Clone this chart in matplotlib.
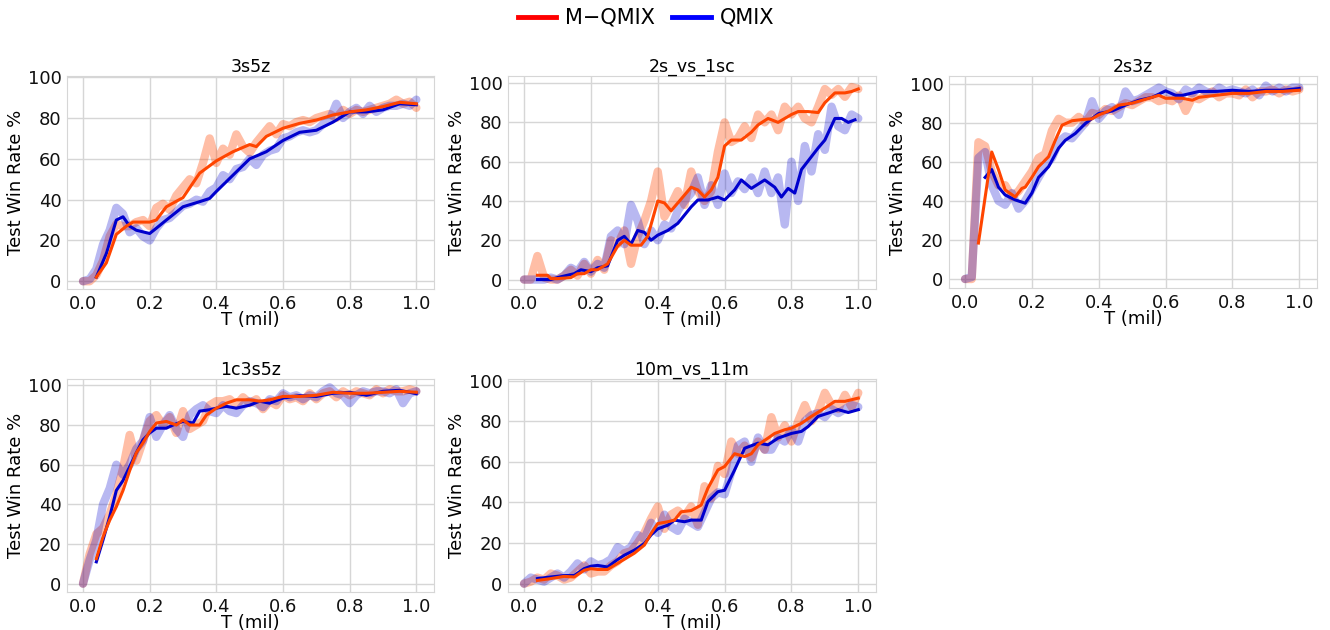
import matplotlib
matplotlib.use('Agg')
import matplotlib.pyplot as plt
import numpy as np

# ---- data (x in millions of steps, y = test win rate %) ----
raw_x = np.linspace(0.0, 1.0, 51)

maps = ['3s5z', '2s_vs_1sc', '2s3z', '1c3s5z', '10m_vs_11m']

# raw (unsmoothed) curves, one value every 0.02
raw_mqmix = {
    '3s5z': [0, 0, 3, 10, 22, 28, 27, 27, 29, 30, 27, 36, 38, 35, 42, 46, 50, 48, 58, 70,
             58, 65, 62, 72, 66, 63, 68, 72, 76, 72, 77, 76, 78, 79, 78, 80, 81, 82, 80, 84,
             82, 84, 83, 84, 85, 86, 87, 89, 87, 88, 85],
    '2s_vs_1sc': [0, 0, 12, 1, 0, 0, 2, 5, 2, 8, 3, 10, 5, 20, 18, 25, 8, 22, 30, 40,
                  55, 32, 38, 45, 38, 55, 45, 40, 45, 65, 80, 70, 72, 78, 72, 84, 80, 84, 76, 88,
                  84, 88, 82, 80, 88, 97, 94, 97, 93, 98, 97],
    '2s3z': [0, 0, 70, 68, 55, 48, 48, 42, 45, 50, 55, 62, 64, 76, 82, 80, 80, 83, 80, 85,
             84, 87, 86, 88, 90, 89, 91, 93, 93, 91, 92, 91, 94, 86, 93, 92, 94, 96, 93, 95,
             95, 94, 97, 93, 96, 96, 97, 95, 97, 96, 97],
    '1c3s5z': [0, 15, 25, 28, 35, 45, 58, 75, 62, 72, 82, 85, 80, 84, 76, 87, 78, 80, 82, 90,
               92, 92, 93, 90, 94, 91, 93, 88, 92, 90, 95, 93, 94, 92, 96, 93, 96, 97, 94, 97,
               95, 97, 96, 95, 98, 96, 98, 97, 97, 98, 97],
    '10m_vs_11m': [0, 1, 3, 2, 5, 4, 2, 3, 6, 9, 5, 6, 6, 9, 11, 15, 16, 20, 25, 32,
                   38, 27, 34, 36, 33, 38, 29, 48, 42, 58, 54, 70, 64, 68, 62, 70, 66, 82, 72, 78,
                   70, 80, 88, 80, 85, 94, 88, 86, 93, 87, 94],
}
raw_qmix = {
    '3s5z': [0, 1, 6, 18, 25, 36, 33, 24, 26, 22, 20, 26, 30, 31, 34, 37, 38, 40, 39, 44,
             46, 52, 50, 55, 56, 60, 57, 62, 64, 65, 70, 71, 73, 74, 73, 74, 77, 79, 87, 80,
             83, 85, 82, 86, 83, 85, 86, 86, 87, 86, 89],
    '2s_vs_1sc': [0, 0, 0, 0, 1, 0, 2, 6, 4, 9, 4, 8, 6, 22, 25, 18, 38, 30, 18, 25,
                  20, 28, 26, 35, 40, 44, 52, 38, 48, 38, 54, 44, 50, 46, 52, 44, 55, 44, 52, 28,
                  60, 40, 68, 55, 74, 66, 88, 78, 76, 84, 82],
    '2s3z': [0, 1, 62, 65, 48, 40, 38, 44, 36, 40, 46, 52, 58, 62, 70, 73, 72, 76, 80, 91,
             82, 86, 88, 84, 96, 91, 92, 94, 96, 98, 96, 95, 92, 97, 95, 98, 96, 95, 98, 96,
             97, 96, 95, 97, 94, 99, 96, 98, 96, 98, 98],
    '1c3s5z': [0, 12, 22, 40, 48, 60, 55, 60, 68, 72, 84, 74, 80, 85, 78, 74, 85, 88, 90, 87,
               86, 90, 87, 86, 90, 92, 91, 89, 93, 92, 96, 94, 95, 93, 95, 94, 97, 99, 96, 95,
               91, 95, 97, 96, 97, 97, 96, 98, 91, 96, 97],
    '10m_vs_11m': [0, 3, 2, 1, 3, 5, 3, 6, 10, 7, 11, 9, 10, 12, 18, 16, 18, 24, 22, 30,
                   25, 34, 28, 26, 32, 30, 28, 35, 42, 45, 44, 55, 68, 70, 60, 72, 66, 66, 72, 70,
                   76, 70, 80, 83, 84, 82, 86, 84, 86, 88, 87],
}

# smoothed curves (x, y pairs)
smooth_mqmix_x = {
    '3s5z': [0.04, 0.07, 0.10, 0.13, 0.15, 0.20, 0.22, 0.25, 0.30, 0.35, 0.40, 0.45, 0.50, 0.52,
             0.55, 0.60, 0.65, 0.70, 0.75, 0.80, 0.85, 0.90, 0.95, 1.00],
    '2s_vs_1sc': [0.04, 0.07, 0.08, 0.10, 0.14, 0.16, 0.18, 0.20, 0.22, 0.25, 0.28, 0.30, 0.32,
                  0.35, 0.37, 0.40, 0.42, 0.44, 0.46, 0.50, 0.52, 0.54, 0.56, 0.58, 0.60, 0.62,
                  0.65, 0.68, 0.70, 0.73, 0.76, 0.80, 0.82, 0.85, 0.88, 0.90, 0.93, 0.96, 0.98, 1.00],
    '2s3z': [0.04, 0.08, 0.10, 0.12, 0.15, 0.17, 0.18, 0.20, 0.22, 0.25, 0.27, 0.29, 0.32, 0.35,
             0.38, 0.40, 0.43, 0.46, 0.50, 0.55, 0.58, 0.60, 0.65, 0.68, 0.70, 0.75, 0.80, 0.85,
             0.90, 0.95, 1.00],
    '1c3s5z': [0.04, 0.06, 0.08, 0.10, 0.12, 0.14, 0.16, 0.18, 0.20, 0.22, 0.25, 0.28, 0.30, 0.32,
               0.35, 0.37, 0.40, 0.43, 0.46, 0.50, 0.53, 0.56, 0.60, 0.65, 0.70, 0.75, 0.80, 0.85,
               0.90, 0.95, 1.00],
    '10m_vs_11m': [0.04, 0.08, 0.12, 0.15, 0.18, 0.20, 0.22, 0.25, 0.28, 0.30, 0.33, 0.36, 0.38,
                   0.40, 0.43, 0.45, 0.47, 0.50, 0.53, 0.55, 0.58, 0.60, 0.63, 0.66, 0.68, 0.70,
                   0.73, 0.75, 0.78, 0.80, 0.83, 0.86, 0.90, 0.93, 0.96, 0.98, 1.00],
}
smooth_mqmix_y = {
    '3s5z': [2, 9, 23, 27, 29, 29, 30, 36.5, 41, 53, 59, 63.5, 67, 66, 71, 75, 77.4, 79, 81.5,
             83, 84, 85.6, 87.7, 87],
    '2s_vs_1sc': [2.2, 2.2, 0.5, 0.5, 1, 3, 3, 5, 5, 8, 17, 20, 17.5, 17.5, 22, 40, 39, 35, 39,
                  47, 45.6, 42, 45.6, 52, 68, 71, 71, 75, 78.7, 82, 80, 84, 85.5, 85.5, 85, 90,
                  95, 95, 95.7, 97],
    '2s3z': [18.4, 65, 56, 45.6, 42, 46.4, 47, 52, 57.5, 62.6, 71, 78.7, 81, 81.6, 82, 84, 86,
             89, 90, 92.5, 94, 92.5, 92.5, 91.5, 93, 94, 95, 95, 96, 96, 96.6],
    '1c3s5z': [12.6, 23.6, 32, 38.8, 47, 57, 66, 71, 76.7, 81, 81.8, 80, 82.6, 80, 80, 85, 88.5,
               91, 92.7, 92.7, 92, 92.7, 94.4, 94.4, 95, 96.5, 96, 96, 96.5, 97, 96.5],
    '10m_vs_11m': [1.6, 2.5, 3.6, 3.3, 6.6, 7.4, 7, 7, 10, 12, 15, 19, 24.7, 29.6, 30.5, 31.3,
                   35.4, 36, 38.7, 47, 56, 57.7, 64, 62.6, 64, 68.4, 71.7, 74, 75.8, 76.6, 79,
                   82.4, 86.5, 89.8, 89.8, 90.6, 91.4],
}
smooth_qmix_x = {
    '3s5z': [0.04, 0.07, 0.10, 0.12, 0.14, 0.16, 0.20, 0.22, 0.25, 0.30, 0.35, 0.38, 0.40, 0.45,
             0.50, 0.55, 0.60, 0.65, 0.70, 0.75, 0.80, 0.85, 0.90, 0.95, 1.00],
    '2s_vs_1sc': [0.04, 0.08, 0.10, 0.15, 0.17, 0.20, 0.22, 0.25, 0.28, 0.30, 0.32, 0.34, 0.36,
                  0.38, 0.40, 0.43, 0.46, 0.50, 0.52, 0.55, 0.58, 0.60, 0.63, 0.65, 0.68, 0.72,
                  0.75, 0.77, 0.79, 0.81, 0.83, 0.86, 0.88, 0.90, 0.93, 0.95, 0.97, 0.99],
    '2s3z': [0.06, 0.08, 0.10, 0.12, 0.15, 0.18, 0.20, 0.22, 0.25, 0.28, 0.30, 0.33, 0.36, 0.40,
             0.44, 0.48, 0.52, 0.56, 0.60, 0.63, 0.65, 0.70, 0.75, 0.80, 0.85, 0.90, 0.95, 1.00],
    '1c3s5z': [0.04, 0.06, 0.08, 0.10, 0.12, 0.14, 0.16, 0.18, 0.20, 0.22, 0.25, 0.27, 0.30, 0.33,
               0.35, 0.38, 0.40, 0.43, 0.46, 0.50, 0.53, 0.56, 0.60, 0.65, 0.70, 0.75, 0.80, 0.85,
               0.90, 0.95, 1.00],
    '10m_vs_11m': [0.04, 0.08, 0.12, 0.15, 0.18, 0.20, 0.22, 0.25, 0.28, 0.30, 0.33, 0.36, 0.38,
                   0.40, 0.43, 0.45, 0.48, 0.50, 0.53, 0.55, 0.58, 0.60, 0.63, 0.66, 0.70, 0.73,
                   0.76, 0.80, 0.83, 0.85, 0.88, 0.91, 0.94, 0.97, 1.00],
}
smooth_qmix_y = {
    '3s5z': [2, 13.6, 30, 31.6, 27, 25, 23.4, 26, 30, 36.5, 39, 40.6, 44, 52, 60, 63.5, 69, 73,
             74, 78, 83, 83, 84, 87, 86.5],
    '2s_vs_1sc': [0, 0, 1, 3, 5, 4, 6, 7, 20, 22, 18, 25, 24, 20, 22.6, 25, 28.6, 37, 40.5, 40.5,
                  42, 40.5, 45.6, 50.7, 46.4, 50.7, 47, 42, 46.4, 44, 56, 62.6, 67, 71, 82, 82,
                  80, 81.3],
    '2s3z': [52, 56, 47, 43, 40.5, 38.8, 44, 52, 57.5, 67, 71, 74.5, 79.6, 84.7, 86, 89, 91.5,
             93, 96.3, 94, 94, 96, 96, 96.6, 96, 96.6, 96.6, 97.5],
    '1c3s5z': [11, 22, 33.7, 47, 52, 59, 66, 72.5, 76, 78.4, 78.4, 80, 81.8, 81, 87, 87.7, 88.5,
               89.4, 88.5, 90, 92, 91, 93.6, 94.8, 94.4, 96, 96.5, 95, 97, 97.5, 95.8],
    '10m_vs_11m': [2.5, 3.3, 4, 4, 7.4, 8.6, 9, 8.2, 11.9, 14, 16.5, 19.8, 24, 27, 28.8, 31.3,
                   30.5, 31.3, 31.3, 40.4, 45.3, 46, 56, 66.7, 69.2, 68.4, 71.7, 74, 75, 77.4,
                   82.4, 84, 85.7, 84.3, 85.7],
}

# y-limits as shown per panel
ylims = {
    '3s5z': (-3.8, 100.6),
    '2s_vs_1sc': (-4.8, 103.6),
    '2s3z': (-4.6, 103.9),
    '1c3s5z': (-4.2, 103.2),
    '10m_vs_11m': (-4.1, 100.8),
}

# axes boxes in pixels: left, top, right, bottom
boxes = {
    '3s5z': (67, 76, 434, 289),
    '2s_vs_1sc': (508, 76, 876, 289),
    '2s3z': (949, 76, 1317, 288),
    '1c3s5z': (67, 379, 434, 592),
    '10m_vs_11m': (508, 379, 876, 592),
}

red = '#ff4500'
blue = '#0000cd'

plt.rcParams['font.family'] = 'DejaVu Sans'
W, H = 1330, 630
fig = plt.figure(figsize=(W / 100, H / 100), dpi=100)

for name in maps:
    l, t, r, b = boxes[name]
    ax = fig.add_axes([l / W, 1 - b / H, (r - l) / W, (b - t) / H])
    # raw curves, thick and faint
    ax.plot(raw_x, raw_mqmix[name], color=red, alpha=0.35, lw=6, solid_capstyle='round')
    ax.plot(raw_x, raw_qmix[name], color=blue, alpha=0.28, lw=6, solid_capstyle='round')
    # smoothed curves
    ax.plot(smooth_qmix_x[name], smooth_qmix_y[name], color=blue, lw=2.2)
    ax.plot(smooth_mqmix_x[name], smooth_mqmix_y[name], color=red, lw=2.2)

    ax.set_xlim(-0.048, 1.053)
    ax.set_ylim(*ylims[name])
    ax.set_xticks([0.0, 0.2, 0.4, 0.6, 0.8, 1.0])
    ax.set_yticks([0, 20, 40, 60, 80, 100])
    ax.grid(True, color='#d6d6d6', lw=1)
    ax.set_axisbelow(True)
    for sp in ax.spines.values():
        sp.set_color('#d6d6d6')
    ax.tick_params(length=0, labelsize=13, pad=4, colors='#111111')
    ax.set_title(name, fontsize=12.5, pad=3)
    ax.set_xlabel('T (mil)', fontsize=13, labelpad=-1)
    ax.set_ylabel('Test Win Rate %', fontsize=13, labelpad=2)

# legend on top
h1, = fig.axes[0].plot([], [], color='red', lw=3.5)
h2, = fig.axes[0].plot([], [], color='blue', lw=3.5)
fig.legend([h1, h2], ['M\u2212QMIX', 'QMIX'], loc='center', bbox_to_anchor=(646 / W, 1 - 18 / H),
           ncol=2, frameon=False, fontsize=15, handlelength=1.85, columnspacing=0.8,
           handletextpad=0.45)

fig.savefig('out.png', dpi=100)
